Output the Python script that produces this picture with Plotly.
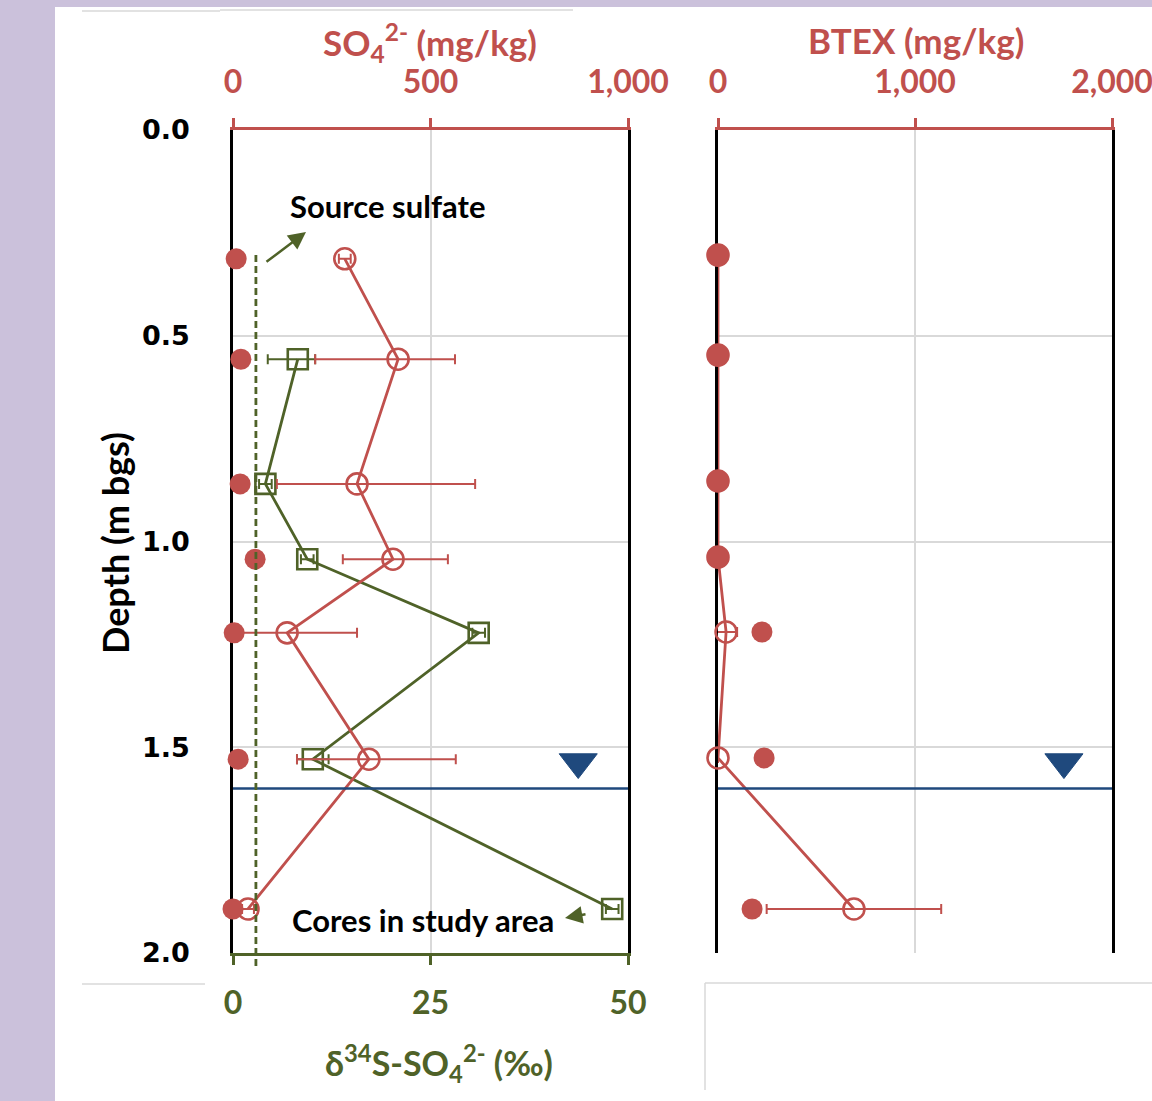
import plotly.graph_objects as go

# ---------------- data ----------------
# Left panel: sulfate concentration (top axis) and d34S (bottom axis)
depth_so4 = [0.313, 0.557, 0.860, 1.043, 1.222, 1.529, 1.893]
so4_core = [283, 418, 314, 405, 137, 344, 38]            # open circles, mg/kg
so4_err_plus = [15, 144, 299, 139, 177, 220, 15]
so4_err_minus = [15, 210, 203, 127, 132, 182, 15]
so4_bg = [8, 20, 18, 56, 3, 13, 0]                        # filled circles, mg/kg

depth_d34s = [0.557, 0.860, 1.043, 1.222, 1.529, 1.893]
d34s = [8.2, 4.1, 9.4, 31.1, 10.1, 48.0]                  # permil
d34s_err_plus = [2.2, 0.8, 0.8, 0.8, 2.0, 0.8]
d34s_err_minus = [3.8, 0.8, 0.8, 0.8, 2.0, 0.8]
source_sulfate = 2.9                                      # permil

# Right panel: BTEX
depth_btex = [0.304, 0.547, 0.853, 1.038, 1.220, 1.526, 1.893]
btex_core = [0, 0, 0, 0, 41, 0, 690]                      # open circles
btex_err = [0, 0, 0, 0, 56, 0, 443]
btex_bg = [0, 0, 0, 0, 223, 234, 173]                     # filled circles

water_table = 1.6
wt_marker_depth = 1.536
wt_marker_left = 43.7
wt_marker_right = 1756

depth_ticks = [0, 0.5, 1.0, 1.5, 2.0]
depth_ticktext = ["0.0", "0.5", "1.0", "1.5", "2.0"]
so4_ticks = [0, 500, 1000]
so4_ticktext = ["0", "500", "1,000"]
d34s_ticks = [0, 25, 50]
btex_ticks = [0, 1000, 2000]
btex_ticktext = ["0", "1,000", "2,000"]

# ---------------- style ----------------
RED = "#C0504D"
GREEN = "#4F6228"
BLUE = "#1F497D"
GRID = "#D9D9D9"
LAV = "#CBC1DB"
W, H = 1152, 1101
FONT = "Lato"
LW = 2.8


def px(x):
    return x / W


def py(y):
    return 1 - y / H


fig = go.Figure()

# left panel: SO4 open circles with line
fig.add_trace(go.Scatter(
    x=so4_core, y=depth_so4, xaxis="x2", yaxis="y", mode="lines+markers",
    line=dict(color=RED, width=LW),
    marker=dict(symbol="circle-open", size=21, color=RED, line=dict(width=2.6, color=RED)),
    error_x=dict(type="data", array=so4_err_plus, arrayminus=so4_err_minus,
                 color=RED, thickness=2, width=5),
    cliponaxis=False, showlegend=False))

# left panel: d34S squares
fig.add_trace(go.Scatter(
    x=d34s, y=depth_d34s, xaxis="x", yaxis="y", mode="lines+markers",
    line=dict(color=GREEN, width=LW),
    marker=dict(symbol="square-open", size=20, color=GREEN, line=dict(width=2.6, color=GREEN)),
    error_x=dict(type="data", array=d34s_err_plus, arrayminus=d34s_err_minus,
                 color=GREEN, thickness=2, width=5),
    cliponaxis=False, showlegend=False))

# left panel: filled red circles
fig.add_trace(go.Scatter(
    x=so4_bg, y=depth_so4, xaxis="x2", yaxis="y", mode="markers",
    marker=dict(symbol="circle", size=21, color=RED),
    cliponaxis=False, showlegend=False))

# left panel water table marker
fig.add_trace(go.Scatter(
    x=[wt_marker_left], y=[wt_marker_depth], xaxis="x", yaxis="y", mode="markers",
    marker=dict(symbol="triangle-down", size=33, color=BLUE, line=dict(width=1, color=BLUE)),
    cliponaxis=False, showlegend=False))

# right panel: BTEX open circles
fig.add_trace(go.Scatter(
    x=btex_core, y=depth_btex, xaxis="x3", yaxis="y2", mode="lines+markers",
    line=dict(color=RED, width=LW),
    marker=dict(symbol="circle-open", size=21, color=RED, line=dict(width=2.6, color=RED)),
    error_x=dict(type="data", array=btex_err, color=RED, thickness=2, width=5),
    cliponaxis=False, showlegend=False))

# right panel: filled circles
fig.add_trace(go.Scatter(
    x=btex_bg, y=depth_btex, xaxis="x3", yaxis="y2", mode="markers",
    marker=dict(symbol="circle", size=21, color=RED),
    cliponaxis=False, showlegend=False))

fig.add_trace(go.Scatter(
    x=[wt_marker_right], y=[wt_marker_depth], xaxis="x3", yaxis="y2", mode="markers",
    marker=dict(symbol="triangle-down", size=33, color=BLUE, line=dict(width=1, color=BLUE)),
    cliponaxis=False, showlegend=False))

tickfont_red = dict(family=FONT, size=32, color=RED, weight="bold")
tickfont_green = dict(family=FONT, size=32, color=GREEN, weight="bold")

ydom = [py(953), py(130)]

fig.update_layout(
    width=W, height=H, margin=dict(l=0, r=0, t=0, b=0, pad=0), autosize=False,
    paper_bgcolor="white", plot_bgcolor="white", showlegend=False,
    xaxis=dict(domain=[px(233), px(628)], range=[0, 50], anchor="y", side="bottom",
               tickvals=d34s_ticks, ticks="outside", ticklen=9, tickwidth=2.5, tickcolor=GREEN,
               showline=True, linecolor=GREEN, linewidth=2.5, showgrid=True, gridcolor=GRID,
               gridwidth=2, zeroline=False, tickfont=tickfont_green, ticklabelstandoff=11,
               automargin=False, ticklabeloverflow="allow"),
    xaxis2=dict(overlaying="x", side="top", anchor="y", range=[0, 1000],
                tickvals=so4_ticks, ticktext=so4_ticktext, ticks="outside", ticklen=9,
                tickwidth=2.5, tickcolor=RED, showline=True, linecolor=RED, linewidth=2.5,
                showgrid=False, zeroline=False, tickfont=tickfont_red, ticklabelstandoff=12,
                automargin=False, ticklabeloverflow="allow"),
    yaxis=dict(domain=ydom, range=[2, 0], anchor="x", tickvals=depth_ticks,
               ticktext=depth_ticktext, ticks="", showline=True, linecolor="black",
               linewidth=2.5, mirror=True, showgrid=True, gridcolor=GRID, gridwidth=2,
               zeroline=False, layer="below traces",
               tickfont=dict(family="DejaVu Sans", size=27, color="black", weight="bold"),
               ticklabelstandoff=35, automargin=False, ticklabeloverflow="allow"),
    xaxis3=dict(domain=[px(718), px(1112)], range=[0, 2000], anchor="y2", side="top",
                tickvals=btex_ticks, ticktext=btex_ticktext, ticks="outside", ticklen=9,
                tickwidth=2.5, tickcolor=RED, showline=True, linecolor=RED, linewidth=2.5,
                showgrid=True, gridcolor=GRID, gridwidth=2, zeroline=False,
                tickfont=tickfont_red, ticklabelstandoff=12, automargin=False,
                ticklabeloverflow="allow"),
    xaxis4=dict(overlaying="x3", side="bottom", anchor="y2", range=[0, 2000],
                showticklabels=False, ticks="", showline=True, linecolor="black",
                linewidth=2.5, showgrid=False, zeroline=False, automargin=False),
    yaxis2=dict(domain=ydom, range=[2, 0], anchor="x3", tickvals=depth_ticks,
                showticklabels=False, ticks="", showline=True, linecolor="black",
                linewidth=2.5, mirror=True, showgrid=True, gridcolor=GRID, gridwidth=2,
                zeroline=False, layer="below traces", automargin=False),
)

shapes = [
    # slide background strips
    dict(type="rect", xref="paper", yref="paper", x0=0, x1=px(55), y0=0, y1=1,
         fillcolor=LAV, line=dict(width=0), layer="below"),
    dict(type="rect", xref="paper", yref="paper", x0=0, x1=1, y0=py(7), y1=1,
         fillcolor=LAV, line=dict(width=0), layer="below"),
    dict(type="line", xref="paper", yref="paper", x0=px(82), x1=px(205), y0=py(984), y1=py(984),
         line=dict(color=GRID, width=1.5)),
    dict(type="line", xref="paper", yref="paper", x0=px(705), x1=px(705), y0=py(983), y1=py(1090),
         line=dict(color=GRID, width=1.5)),
    dict(type="line", xref="paper", yref="paper", x0=px(705), x1=1, y0=py(983), y1=py(983),
         line=dict(color=GRID, width=1.5)),
    dict(type="line", xref="paper", yref="paper", x0=px(82), x1=px(220), y0=py(11), y1=py(11),
         line=dict(color=GRID, width=1.5)),
    dict(type="line", xref="paper", yref="paper", x0=px(220), x1=px(573), y0=py(10), y1=py(10),
         line=dict(color=GRID, width=1.5)),
    # water table
    dict(type="line", xref="x", yref="y", x0=0, x1=50, y0=water_table, y1=water_table,
         line=dict(color=BLUE, width=2.5)),
    dict(type="line", xref="x3", yref="y2", x0=0, x1=2000, y0=water_table, y1=water_table,
         line=dict(color=BLUE, width=2.5)),
    # source sulfate dashed line
    dict(type="line", xref="x", yref="paper", x0=source_sulfate, x1=source_sulfate,
         y0=py(255), y1=py(966), line=dict(color=GREEN, width=2.8, dash="7px,4px")),
]
fig.update_layout(shapes=shapes)

title_font = dict(family=FONT, size=35, weight="bold")
annotations = [
    dict(text="SO<sub>4</sub><sup>2-</sup> (mg/kg)", x=px(430), y=py(42),
         font=dict(color=RED, **title_font)),
    dict(text="BTEX (mg/kg)", x=px(916), y=py(40), font=dict(color=RED, **title_font)),
    dict(text="Depth (m bgs)", x=px(115), y=py(543), textangle=-90,
         font=dict(color="black", family=FONT, size=36, weight="bold")),
    dict(text="δ<sup>34</sup>S-SO<sub>4</sub><sup>2-</sup> (‰)", x=px(439), y=py(1063),
         font=dict(color=GREEN, family=FONT, size=34, weight="bold")),
    dict(text="Source sulfate", x=px(387), y=py(206),
         font=dict(color="black", family=FONT, size=31, weight="bold")),
    dict(text="Cores in study area", x=px(423), y=py(920),
         font=dict(color="black", family=FONT, size=31, weight="bold")),
]
for a in annotations:
    a.update(xref="paper", yref="paper", showarrow=False, xanchor="center", yanchor="middle")

annotations += [
    dict(text="", xref="paper", yref="paper", x=px(306), y=py(232), ax=-41, ay=31,
         showarrow=True, arrowhead=2, arrowsize=1.4, arrowwidth=2.5, arrowcolor=GREEN),
    dict(text="", xref="paper", yref="paper", x=px(565), y=py(918), ax=22, ay=-4,
         showarrow=True, arrowhead=2, arrowsize=1.4, arrowwidth=2.5, arrowcolor=GREEN),
]
fig.update_layout(annotations=annotations)

fig.write_html(
    "out.html",
    post_script="document.body.style.margin='0';document.body.style.overflow='hidden';",
)
